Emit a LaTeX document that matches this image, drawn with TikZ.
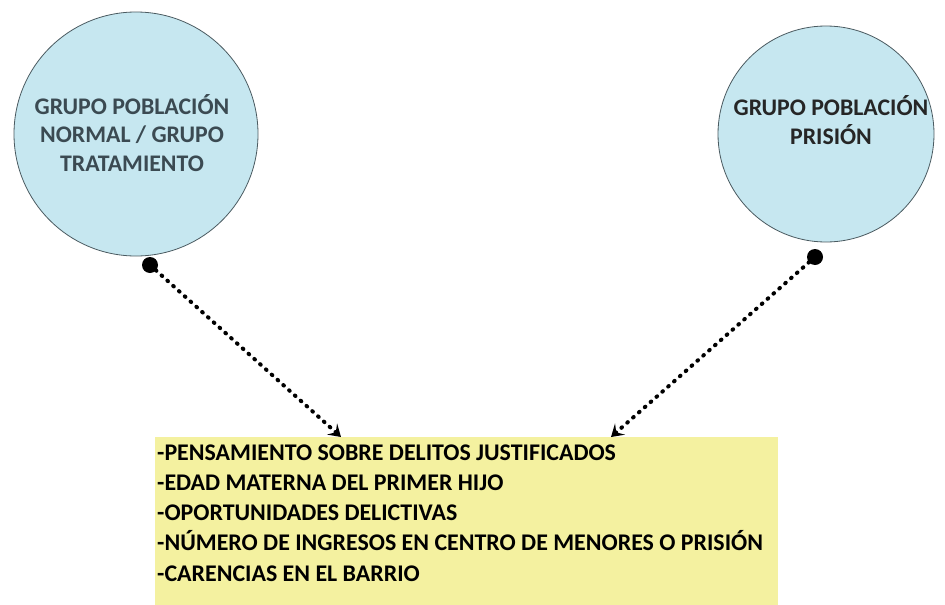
\documentclass[tikz,border=0pt]{standalone}
\usepackage{fontspec}
\setmainfont{Carlito}
\usetikzlibrary{arrows.meta}
\definecolor{circfill}{HTML}{C6E7F0}
\definecolor{circline}{HTML}{4A5A60}
\definecolor{slate}{HTML}{3B4A52}
\definecolor{boxfill}{HTML}{F4F1A0}
\begin{document}
\begin{tikzpicture}[x=1pt,y=-1pt,
  group/.style={circle,draw=circline,line width=0.8pt,fill=circfill,inner sep=0pt},
  grouptext/.style={align=center,font=\fontsize{23.8}{28.5}\selectfont\bfseries,inner sep=0pt},
  knob/.style={circle,fill=black,minimum size=16pt,inner sep=0pt},
  link/.style={line width=4pt,line cap=round,dash pattern=on 0.8pt off 7pt,
     -{Stealth[length=12pt,width=15pt,inset=5pt,line cap=butt]}},
  listbox/.style={rectangle,fill=boxfill,inner sep=0pt,anchor=north west},
  listtext/.style={align=left,anchor=north west,inner sep=0pt,
     font=\fontsize{23.9}{30.2}\selectfont\bfseries}]
\useasboundingbox (0,0) rectangle (945,605);
\fill[white] (0,0) rectangle (945,605);
% circles
\node[group,minimum size=244pt] (gn) at (136,134) {};
\node[group,minimum size=216pt] (gp) at (826,134) {};
\node[grouptext,text=slate] (gnt) at (132,133) {GRUPO POBLACIÓN\\NORMAL / GRUPO\\TRATAMIENTO};
\node[grouptext,text=black!85] (gpt) at (831,120) {GRUPO POBLACIÓN\\PRISIÓN};
% box
\node[listbox,minimum width=623pt,minimum height=170pt] (box) at (155,437) {};
\node[listtext] (list) at (157,444.5) {-PENSAMIENTO SOBRE DELITOS JUSTIFICADOS\\-EDAD MATERNA DEL PRIMER HIJO\\-OPORTUNIDADES DELICTIVAS\\-NÚMERO DE INGRESOS EN CENTRO DE MENORES O PRISIÓN\\-CARENCIAS EN EL BARRIO};
% knobs
\node[knob] (kn) at (150,265) {};
\node[knob] (kp) at (815,257) {};
\coordinate (tn) at (341,437);
\coordinate (tp) at (611,437);
\draw[link] (kn.center) -- (tn);
\draw[link] (kp.center) -- (tp);
\end{tikzpicture}
\end{document}
